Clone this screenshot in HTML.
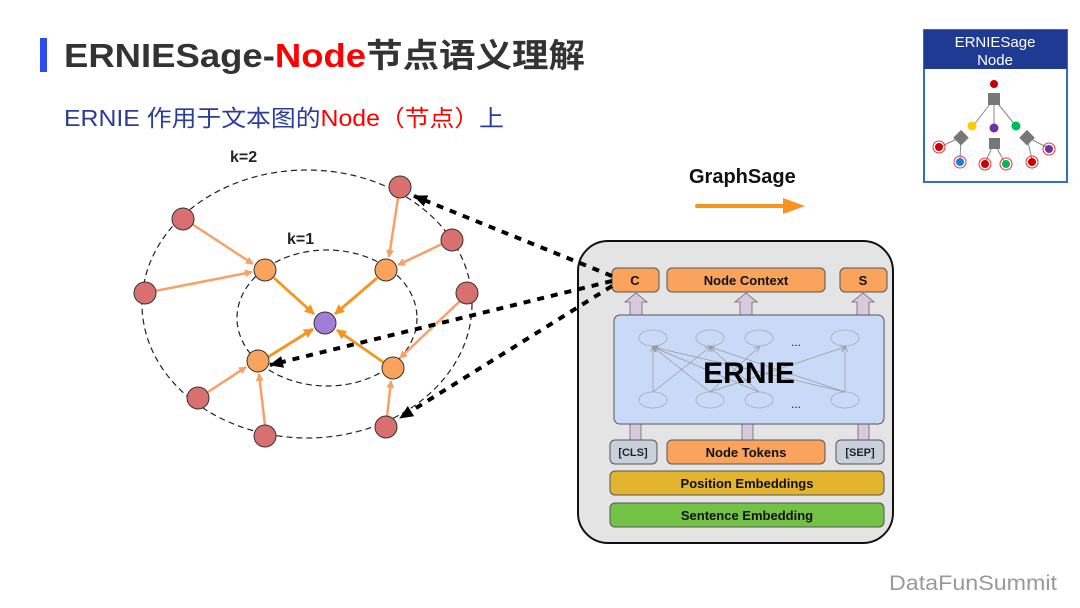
<!DOCTYPE html>
<html><head><meta charset="utf-8"><style>
body{margin:0;background:#fff;}
svg{display:block;}
text{font-family:"Liberation Sans","Noto Sans CJK SC",sans-serif;}
</style></head><body>
<svg width="1080" height="608" viewBox="0 0 1080 608" xmlns="http://www.w3.org/2000/svg">
<defs>
<marker id="oa" markerWidth="8" markerHeight="8" refX="7" refY="4" orient="auto" markerUnits="userSpaceOnUse"><path d="M0,0 L8,4 L0,8 Z" fill="#f9a066"/></marker>
<marker id="ob" markerWidth="10" markerHeight="10" refX="9" refY="5" orient="auto" markerUnits="userSpaceOnUse"><path d="M0,0 L10,5 L0,10 Z" fill="#f7941d"/></marker>
<marker id="ka" markerWidth="14" markerHeight="12" refX="13" refY="6" orient="auto" markerUnits="userSpaceOnUse"><path d="M0,0 L14,6 L0,12 Z" fill="#000"/></marker>
<marker id="ga" markerWidth="6" markerHeight="6" refX="5" refY="3" orient="auto" markerUnits="userSpaceOnUse"><path d="M0,0 L6,3 L0,6" fill="none" stroke="#999" stroke-width="0.8"/></marker>
</defs>
<!-- title -->
<rect x="40" y="38" width="7" height="34" fill="#2e4bf0"/>
<text x="64" y="67" font-size="33" font-weight="bold" fill="#333" textLength="521" lengthAdjust="spacingAndGlyphs">ERNIESage-<tspan fill="#f00">Node</tspan>节点语义理解</text>
<text x="64" y="126" font-size="23" fill="#2b3d9a" textLength="440" lengthAdjust="spacingAndGlyphs">ERNIE 作用于文本图的<tspan fill="#f00">Node（节点）</tspan>上</text>

<!-- graph -->
<ellipse cx="307" cy="304" rx="165" ry="134" fill="none" stroke="#222" stroke-width="1.2" stroke-dasharray="6,4"/>
<ellipse cx="327" cy="318" rx="90" ry="68" fill="none" stroke="#222" stroke-width="1.2" stroke-dasharray="6,4"/>
<text x="230" y="162" font-size="16" font-weight="bold" fill="#222">k=2</text>
<text x="287" y="244" font-size="16" font-weight="bold" fill="#222">k=1</text>
<g stroke="#f9a066" stroke-width="2.5" marker-end="url(#oa)">
<line x1="192" y1="224" x2="253" y2="264"/>
<line x1="155" y1="291" x2="252" y2="272"/>
<line x1="398" y1="198" x2="389" y2="257"/>
<line x1="442" y1="244" x2="398" y2="265"/>
<line x1="460" y1="301" x2="400" y2="358"/>
<line x1="208" y1="392" x2="246" y2="367"/>
<line x1="265" y1="426" x2="259" y2="374"/>
<line x1="387" y1="417" x2="391" y2="381"/>
</g>
<g stroke="#f7941d" stroke-width="2.8" marker-end="url(#ob)">
<line x1="274" y1="278" x2="314" y2="314"/>
<line x1="377" y1="278" x2="335" y2="314"/>
<line x1="268" y1="357" x2="313" y2="329"/>
<line x1="383" y1="362" x2="337" y2="330"/>
</g>
<g fill="#d97070" stroke="#333" stroke-width="1">
<circle cx="183" cy="219" r="11"/><circle cx="145" cy="293" r="11"/>
<circle cx="400" cy="187" r="11"/><circle cx="452" cy="240" r="11"/>
<circle cx="467" cy="293" r="11"/><circle cx="198" cy="398" r="11"/>
<circle cx="265" cy="436" r="11"/><circle cx="386" cy="427" r="11"/>
</g>
<g fill="#f9a35c" stroke="#333" stroke-width="1">
<circle cx="265" cy="270" r="11"/><circle cx="386" cy="270" r="11"/>
<circle cx="258" cy="361" r="11"/><circle cx="393" cy="368" r="11"/>
</g>
<circle cx="325" cy="323" r="11" fill="#a07ed8" stroke="#333"/>

<!-- GraphSage -->
<text x="689" y="183" font-size="20" font-weight="bold" fill="#111">GraphSage</text>
<line x1="697" y1="206" x2="785" y2="206" stroke="#f7941d" stroke-width="4" stroke-linecap="round"/>
<path d="M783,198 L805,206 L783,214 Z" fill="#f7941d"/>

<!-- ERNIE box -->
<rect x="578" y="241" width="315" height="302" rx="30" fill="#e4e4e4" stroke="#111" stroke-width="2"/>
<g fill="#d9c9e0" stroke="#666" stroke-width="0.8">
<path d="M630,315 V302 H625 L636,293 L647,302 H642 V315 Z"/>
<path d="M740,315 V302 H735 L746,293 L757,302 H752 V315 Z"/>
<path d="M857,315 V302 H852 L863,293 L874,302 H869 V315 Z"/>
<rect x="630" y="424" width="11" height="16"/>
<rect x="742" y="424" width="11" height="16"/>
<rect x="858" y="424" width="11" height="16"/>
</g>
<g stroke="#555" stroke-width="1">
<rect x="612" y="268" width="47" height="24" rx="5" fill="#f9a35c"/>
<rect x="667" y="268" width="158" height="24" rx="5" fill="#f9a35c"/>
<rect x="840" y="268" width="47" height="24" rx="5" fill="#f9a35c"/>
<rect x="614" y="315" width="270" height="109" rx="6" fill="#c9daf8"/>
<rect x="610" y="440" width="47" height="24" rx="5" fill="#c8d0dc"/>
<rect x="667" y="440" width="158" height="24" rx="5" fill="#f9a35c"/>
<rect x="836" y="440" width="48" height="24" rx="5" fill="#c8d0dc"/>
<rect x="610" y="471" width="274" height="24" rx="5" fill="#e3b52f"/>
<rect x="610" y="503" width="274" height="24" rx="5" fill="#73c246"/>
</g>
<g fill="none" stroke="#aab" stroke-width="0.8">
<ellipse cx="653" cy="338" rx="14" ry="8"/><ellipse cx="710" cy="338" rx="14" ry="8"/>
<ellipse cx="759" cy="338" rx="14" ry="8"/><ellipse cx="845" cy="338" rx="14" ry="8"/>
<ellipse cx="653" cy="400" rx="14" ry="8"/><ellipse cx="710" cy="400" rx="14" ry="8"/>
<ellipse cx="759" cy="400" rx="14" ry="8"/><ellipse cx="845" cy="400" rx="14" ry="8"/>
</g>
<g stroke="#999" stroke-width="0.7" marker-end="url(#ga)">
<line x1="653" y1="392" x2="653" y2="347"/><line x1="653" y1="392" x2="710" y2="347"/>
<line x1="710" y1="392" x2="653" y2="347"/><line x1="710" y1="392" x2="759" y2="347"/>
<line x1="759" y1="392" x2="653" y2="347"/><line x1="759" y1="392" x2="710" y2="347"/>
<line x1="845" y1="392" x2="653" y2="347"/><line x1="845" y1="392" x2="710" y2="347"/>
<line x1="845" y1="392" x2="845" y2="347"/><line x1="710" y1="392" x2="845" y2="347"/>
</g>
<text x="791" y="346" font-size="12" fill="#222">...</text>
<text x="791" y="408" font-size="12" fill="#222">...</text>
<text x="749" y="383" font-size="30" font-weight="bold" fill="#000" text-anchor="middle">ERNIE</text>
<g font-size="13" font-weight="bold" fill="#111" text-anchor="middle">
<text x="635" y="285">C</text>
<text x="746" y="285">Node Context</text>
<text x="863" y="285">S</text>
<text x="746" y="457">Node Tokens</text>
<text x="747" y="488">Position Embeddings</text>
<text x="747" y="520">Sentence Embedding</text>
</g>
<g font-size="11" font-weight="bold" fill="#222" text-anchor="middle">
<text x="633" y="456">[CLS]</text>
<text x="860" y="456">[SEP]</text>
</g>

<!-- dashed arrows (over box) -->
<g stroke="#000" stroke-width="4" stroke-dasharray="7,7" fill="none" marker-end="url(#ka)">
<line x1="612" y1="276" x2="414" y2="196"/>
<line x1="612" y1="281" x2="270" y2="365"/>
<line x1="612" y1="286" x2="400" y2="418"/>
</g>

<!-- thumbnail -->
<rect x="924" y="30" width="143" height="152" fill="#fff" stroke="#2f6fc0" stroke-width="2"/>
<rect x="924" y="30" width="143" height="39" fill="#1f3a93"/>
<text x="995" y="47" font-size="15" fill="#fff" text-anchor="middle">ERNIESage</text>
<text x="995" y="65" font-size="15" fill="#fff" text-anchor="middle">Node</text>
<g stroke="#888" stroke-width="1">
<line x1="994" y1="99" x2="973" y2="126"/><line x1="994" y1="99" x2="994" y2="128"/><line x1="994" y1="99" x2="1016" y2="126"/>
<line x1="961" y1="137" x2="940" y2="147"/><line x1="961" y1="137" x2="960" y2="160"/>
<line x1="994" y1="143" x2="985" y2="163"/><line x1="994" y1="143" x2="1005" y2="163"/>
<line x1="1027" y1="137" x2="1048" y2="148"/><line x1="1027" y1="137" x2="1032" y2="160"/>
</g>
<circle cx="994" cy="84" r="4" fill="#c00"/>
<rect x="988" y="93" width="12" height="12" fill="#777"/>
<circle cx="972" cy="126" r="4.5" fill="#fc0"/><circle cx="994" cy="128" r="4.5" fill="#7030a0"/><circle cx="1016" cy="126" r="4.5" fill="#0b5"/>
<rect x="956" y="132" width="11" height="11" fill="#777" transform="rotate(45 961 137)"/>
<rect x="989" y="138" width="11" height="11" fill="#777"/>
<rect x="1022" y="132" width="11" height="11" fill="#777" transform="rotate(45 1027 137)"/>
<g stroke="#e33" stroke-width="1" fill="none">
<circle cx="939" cy="147" r="6"/><circle cx="960" cy="162" r="6"/><circle cx="985" cy="164" r="6"/>
<circle cx="1006" cy="164" r="6"/><circle cx="1032" cy="162" r="6"/><circle cx="1049" cy="149" r="6"/>
</g>
<circle cx="939" cy="147" r="4" fill="#c00"/><circle cx="960" cy="162" r="4" fill="#1a7fd0"/><circle cx="985" cy="164" r="4" fill="#c00"/>
<circle cx="1006" cy="164" r="4" fill="#0b5"/><circle cx="1032" cy="162" r="4" fill="#c00"/><circle cx="1049" cy="149" r="4" fill="#7030a0"/>

<text x="889" y="590" font-size="21" fill="#999" textLength="168" lengthAdjust="spacingAndGlyphs">DataFunSummit</text>
</svg>
</body></html>
